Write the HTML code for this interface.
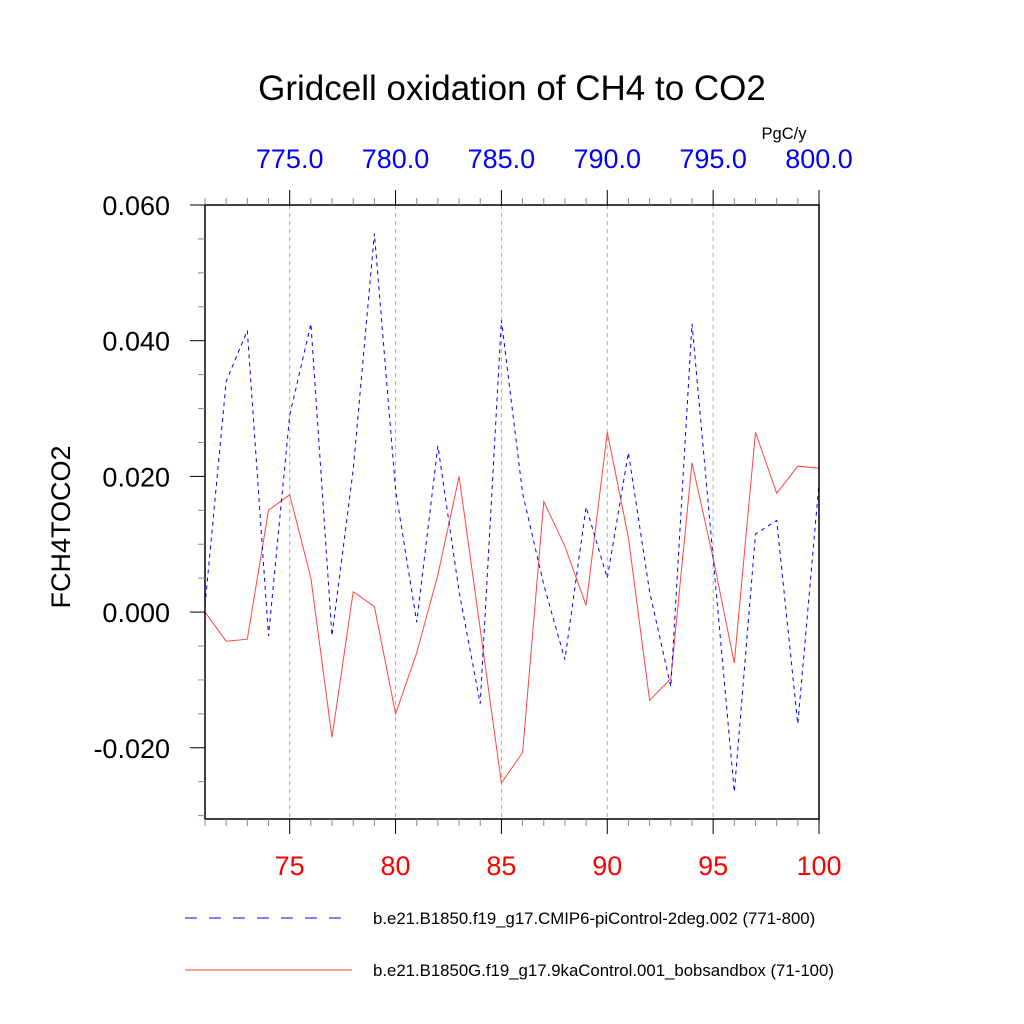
<!DOCTYPE html>
<html><head><meta charset="utf-8"><style>
body{margin:0;background:#fff}
svg{display:block;font-family:"Liberation Sans",sans-serif}
</style></head><body>
<svg id="chart" width="1024" height="1024" xmlns="http://www.w3.org/2000/svg">
<rect width="1024" height="1024" fill="#fff"/>
<text x="512" y="100" font-size="35" text-anchor="middle">Gridcell oxidation of CH4 to CO2</text>
<text x="784" y="139" font-size="16.5" text-anchor="middle">PgC/y</text>
<text x="70" y="527" font-size="27" text-anchor="middle" transform="rotate(-90 70 527)">FCH4TOCO2</text>
<g id="grid"></g>
<g id="series"></g>
<g id="axes"></g>
<g>
<line x1="185" y1="918" x2="352" y2="918" stroke="#00f" stroke-width="1" stroke-dasharray="12,12"/>
<text x="373" y="924" font-size="16.8">b.e21.B1850.f19_g17.CMIP6-piControl-2deg.002 (771-800)</text>
<line x1="185" y1="970" x2="352" y2="970" stroke="#f44" stroke-width="1"/>
<text x="373" y="976" font-size="16.8">b.e21.B1850G.f19_g17.9kaControl.001_bobsandbox (71-100)</text>
</g>
</svg>
<script>
const years=[71,72,73,74,75,76,77,78,79,80,81,82,83,84,85,86,87,88,89,90,91,92,93,94,95,96,97,98,99,100];
const blueValues=[0.001,0.034,0.0415,-0.0035,0.029,0.0425,-0.0035,0.021,0.0558,0.018,-0.0015,0.0245,0.003,-0.0135,0.043,0.0175,0.004,-0.007,0.0155,0.005,0.0235,0.003,-0.011,0.0425,0.008,-0.0265,0.0115,0.0135,-0.0165,0.019];
const redValues=[0.0,-0.0043,-0.004,0.015,0.0173,0.005,-0.0185,0.003,0.0008,-0.015,-0.006,0.0055,0.02,-0.0025,-0.0252,-0.0207,0.0163,0.0097,0.001,0.0265,0.011,-0.013,-0.0098,0.022,0.008,-0.0075,0.0265,0.0175,0.0215,0.0212];
const yTicks=[0.06,0.04,0.02,0.0,-0.02];
const yTickLabels=["0.060","0.040","0.020","0.000","-0.020"];
const xTicks=[75,80,85,90,95,100];
const xTickLabels=["75","80","85","90","95","100"];
const topTickLabels=["775.0","780.0","785.0","790.0","795.0","800.0"];
const L=205,R=819,T=205,B=819,XMIN=71,XMAX=100,YMAX=0.06,YMIN=-0.0305;
const sx=v=>L+(v-XMIN)/(XMAX-XMIN)*(R-L);
const sy=v=>T+(YMAX-v)/(YMAX-YMIN)*(B-T);
const NS="http://www.w3.org/2000/svg";
function mk(tag,attrs,parent){const e=document.createElementNS(NS,tag);for(const k in attrs)e.setAttribute(k,attrs[k]);parent.appendChild(e);return e;}
const grid=document.getElementById('grid'),series=document.getElementById('series'),axes=document.getElementById('axes');
xTicks.forEach(v=>{if(v<XMAX){const l=mk('line',{x1:sx(v),x2:sx(v),y1:T,y2:B,stroke:'#aaa','stroke-width':1,'stroke-dasharray':'4,4'},grid);

}});
function path(vals,color,dash,name){const d=vals.map((v,i)=>(i?'L':'M')+sx(years[i]).toFixed(1)+','+sy(v).toFixed(1)).join('');
const p=mk('path',{d:d,fill:'none',stroke:color,'stroke-width':1},series);if(dash)p.setAttribute('stroke-dasharray',dash);

}
path(redValues,'#f44',null,'red-series-line');
path(blueValues,'#00f','4,4','blue-series-line');
const fr=mk('rect',{x:L,y:T,width:R-L,height:B-T,fill:'none',stroke:'#000','stroke-width':1.5},axes);


for(let y=XMIN;y<=XMAX;y++){const major=xTicks.includes(y);const len=major?15:7;const c=major?'#000':'#888';
mk('line',{x1:sx(y),x2:sx(y),y1:B,y2:B+len,stroke:c},axes);mk('line',{x1:sx(y),x2:sx(y),y1:T,y2:T-len,stroke:c},axes);}
for(let v=-0.03;v<=0.0601;v+=0.005){const major=yTicks.some(t=>Math.abs(t-v)<1e-6);const len=major?15:7;const c=major?'#000':'#888';
mk('line',{x1:L,x2:L-len,y1:sy(v),y2:sy(v),stroke:c},axes);}
yTicks.forEach((v,i)=>{const t=mk('text',{x:170,y:sy(v)+10,'font-size':27,'text-anchor':'end'},axes);t.textContent=yTickLabels[i];

});
xTicks.forEach((v,i)=>{const t=mk('text',{x:sx(v),y:875,'font-size':27,'text-anchor':'middle',fill:'#f00'},axes);t.textContent=xTickLabels[i];


const u=mk('text',{x:sx(v),y:168,'font-size':27,'text-anchor':'middle',fill:'#00f'},axes);u.textContent=topTickLabels[i];

});
</script>
</body></html>
